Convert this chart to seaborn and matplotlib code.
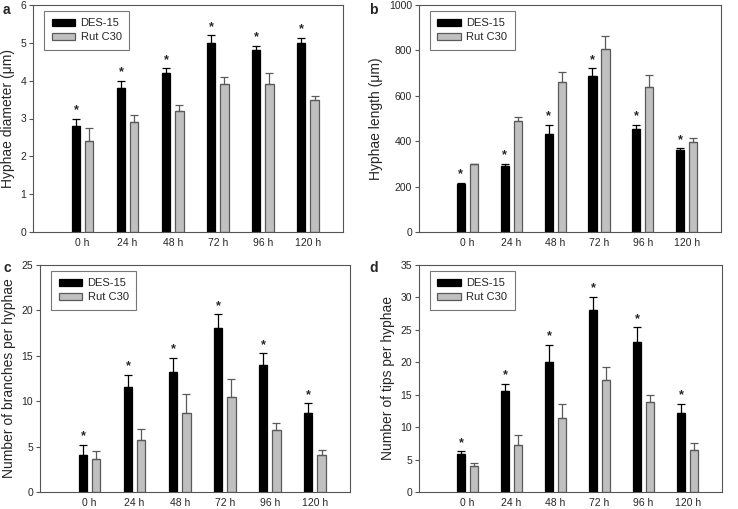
import pandas as pd
import matplotlib
matplotlib.use("Agg")
import matplotlib.pyplot as plt
from matplotlib.patches import Patch
import seaborn as sns

hours = ['0 h', '24 h', '48 h', '72 h', '96 h', '120 h']
strains = ['DES-15', 'Rut C30']

diam_des = [2.8, 3.8, 4.2, 5.0, 4.8, 5.0]
diam_des_err = [0.2, 0.2, 0.13, 0.2, 0.12, 0.13]
diam_rut = [2.4, 2.9, 3.2, 3.9, 3.9, 3.5]
diam_rut_err = [0.34, 0.2, 0.17, 0.19, 0.3, 0.1]

len_des = [212, 290, 432, 688, 452, 362]
len_des_err = [5, 10, 41, 34, 20, 8]
len_rut = [298, 487, 660, 806, 640, 398]
len_rut_err = [2, 21, 46, 58, 50, 14]

branch_des = [4.1, 11.6, 13.2, 18.1, 14.0, 8.7]
branch_des_err = [1.1, 1.3, 1.6, 1.5, 1.3, 1.1]
branch_rut = [3.6, 5.7, 8.7, 10.5, 6.8, 4.1]
branch_rut_err = [0.9, 1.2, 2.1, 1.9, 0.8, 0.5]

tips_des = [5.8, 15.5, 20.1, 28.0, 23.2, 12.2]
tips_des_err = [0.5, 1.2, 2.6, 2.1, 2.2, 1.4]
tips_rut = [4.0, 7.2, 11.4, 17.2, 13.8, 6.4]
tips_rut_err = [0.4, 1.6, 2.1, 2.0, 1.1, 1.1]

sns.set_style("white")
plt.rcParams['font.family'] = ['Liberation Sans', 'DejaVu Sans']

colors = ['#000000', '#c0c0c0']
edges = ['#000000', '#5a5a5a']
spine_col = '#555555'


def panel(ax, des, des_err, rut, rut_err, ylabel, ymax, ystep, letter, lx, ly):
    df = pd.DataFrame({
        'hour': hours * 2,
        'strain': [strains[0]] * 6 + [strains[1]] * 6,
        'value': des + rut,
    })
    sns.barplot(data=df, x='hour', y='value', hue='strain', order=hours,
                hue_order=strains, palette=colors, width=0.592, gap=0.375,
                errorbar=None, ax=ax, linewidth=0.9, saturation=1, legend=False)
    for cont, errs, ec in zip(ax.containers, [des_err, rut_err], edges):
        for bar in cont:
            bar.set_edgecolor(ec)
        xs = [b.get_x() + b.get_width() / 2 for b in cont]
        hs = [b.get_height() for b in cont]
        ax.errorbar(xs, hs, yerr=[[0] * len(errs), errs], fmt='none',
                    ecolor=ec, elinewidth=0.9, capsize=3, capthick=0.9)
    # stars above DES-15
    for bar, e in zip(ax.containers[0], des_err):
        x = bar.get_x() + bar.get_width() / 2
        ax.annotate('*', (x, bar.get_height() + e), xytext=(0, 6),
                    textcoords='offset points', ha='center', va='center',
                    fontsize=9, fontweight='bold')
    ax.set_xlim(-1.1, 5.78)
    ax.set_ylim(0, ymax)
    ax.set_yticks(range(0, ymax + 1, ystep))
    ax.set_xlabel('')
    ax.set_ylabel(ylabel, fontsize=10)
    ax.tick_params(axis='y', direction='out', length=3, width=0.8,
                   color=spine_col, labelsize=7.5, left=True, pad=2)
    ax.tick_params(axis='x', length=0, labelsize=7.5, pad=4)
    for s in ax.spines.values():
        s.set_color(spine_col)
        s.set_linewidth(0.8)
    handles = [Patch(facecolor=c, edgecolor=e, linewidth=0.9)
               for c, e in zip(colors, edges)]
    leg = ax.legend(handles, strains, loc='upper left',
                    bbox_to_anchor=(0.035, 0.975), borderaxespad=0,
                    fontsize=8, fancybox=False, frameon=True,
                    edgecolor=spine_col, borderpad=0.7, handlelength=2.1,
                    handleheight=0.65, handletextpad=0.5, labelspacing=0.35)
    leg.get_frame().set_linewidth(0.8)
    ax.figure.text(lx, ly, letter, fontsize=10, fontweight='bold',
                   ha='left', va='top')


fig = plt.figure(figsize=(7.38, 5.09), dpi=100)
W, H = 738, 509


def box(l, t, r, b):
    return [l / W, 1 - b / H, (r - l) / W, (b - t) / H]


ax_a = fig.add_axes(box(33, 5, 343, 232))
ax_b = fig.add_axes(box(419, 5, 721, 232))
ax_c = fig.add_axes(box(40, 265, 350, 492))
ax_d = fig.add_axes(box(419, 265, 722, 492))

panel(ax_a, diam_des, diam_des_err, diam_rut, diam_rut_err,
      'Hyphae diameter (\u03bcm)', 6, 1, 'a', 3 / W, 1 - 3 / H)
panel(ax_b, len_des, len_des_err, len_rut, len_rut_err,
      'Hyphae length (\u03bcm)', 1000, 200, 'b', 369 / W, 1 - 3 / H)
panel(ax_c, branch_des, branch_des_err, branch_rut, branch_rut_err,
      'Number of branches per hyphae', 25, 5, 'c', 3 / W, 1 - 261 / H)
panel(ax_d, tips_des, tips_des_err, tips_rut, tips_rut_err,
      'Number of tips per hyphae', 35, 5, 'd', 369 / W, 1 - 261 / H)

fig.savefig('out.png', dpi=100)
